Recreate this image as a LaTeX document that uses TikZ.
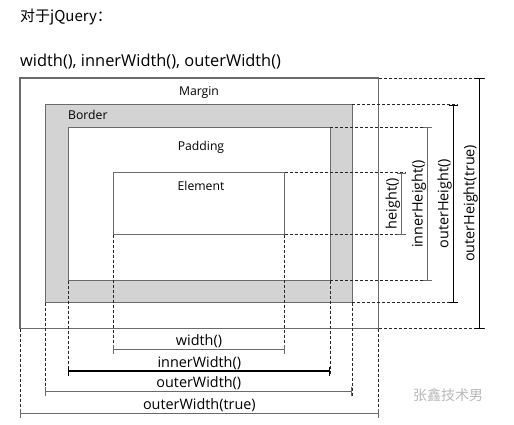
\documentclass[tikz,border=0pt]{standalone}
\usepackage{fontspec}
\setmainfont{Open Sans}
\newfontfamily\cjkfont{Noto Sans CJK SC}
\usetikzlibrary{arrows.meta}
\definecolor{boxGray}{HTML}{D3D3D3}
\definecolor{lineGray}{HTML}{6A6A6A}
\definecolor{markGray}{HTML}{B8B8B8}

\begin{document}
\begin{tikzpicture}[x=1pt, y=-1pt,
  layer/.style={draw=lineGray, line width=1.1pt, inner sep=0pt, outer sep=0pt, anchor=north west, fill=white},
  extline/.style={dash pattern=on 3pt off 2pt, line width=0.7pt, draw=black!85},
  dimline/.style={{Bar[width=9pt]}-{Bar[width=9pt]}, line width=1.1pt},
  boxlabel/.style={font=\fontsize{12.2}{14}\selectfont, inner sep=0pt},
  dimlabel/.style={font=\fontsize{14.4}{16}\selectfont, inner sep=1pt},
]
\useasboundingbox (0,0) rectangle (514,425);

% heading lines
\node[anchor=west, inner sep=0pt, font=\fontsize{15}{18}\selectfont] (title) at (20,17) {\cjkfont 对于jQuery：};
\node[anchor=west, inner sep=0pt, font=\fontsize{16.4}{19}\selectfont] (methods) at (20,62) {width(), innerWidth(), outerWidth()};

% box model layers
\node[layer, minimum width=358.7pt, minimum height=250.7pt] (margin) at (20,78) {};
\node[layer, fill=boxGray, minimum width=307pt, minimum height=198pt] (border) at (45.3,104.7) {};
\node[layer, minimum width=262pt, minimum height=153.4pt] (padding) at (68.3,127.3) {};
\node[layer, minimum width=171.4pt, minimum height=62pt] (element) at (113.3,172.7) {};

\node[boxlabel] (margin-label) at (199,92) {Margin};
\node[boxlabel, anchor=west] (border-label) at (68,115) {Border};
\node[boxlabel] (padding-label) at (201,147) {Padding};
\node[boxlabel] (element-label) at (201,186) {Element};

% dimension lines
\foreach \layer/\vx/\hy/\vcol/\hcol/\vlab/\hlab in {
  element/401.7/349.7/lineGray/lineGray/height()/width(),
  padding/427.7/371/lineGray/black/innerHeight()/innerWidth(),
  border/453.3/391.7/black/lineGray/outerHeight()/outerWidth(),
  margin/479.3/413.3/black/lineGray/outerHeight(true)/outerWidth(true)} {
  \coordinate (\layer-vx) at (\vx,0);
  \coordinate (\layer-hy) at (0,\hy);
  \draw[extline] (\layer.north east) -- ([xshift=4.5pt]\layer.north east -| \layer-vx);
  \draw[extline] (\layer.south east) -- ([xshift=4.5pt]\layer.south east -| \layer-vx);
  \draw[extline] (\layer.south west) -- ([yshift=-4.5pt]\layer.south west |- \layer-hy);
  \draw[extline] (\layer.south east) -- ([yshift=-4.5pt]\layer.south east |- \layer-hy);
  \draw[dimline, draw=\vcol] (\layer.north east -| \layer-vx) -- (\layer.south east -| \layer-vx)
    node[dimlabel, midway, rotate=90, above] {\vlab};
  \draw[dimline, draw=\hcol] (\layer.south west |- \layer-hy) -- (\layer.south east |- \layer-hy)
    node[dimlabel, midway, above] {\hlab};
}

% watermark
\node[anchor=west, inner sep=0pt, text=markGray, font=\fontsize{14}{16}\selectfont] (mark) at (413,395) {\cjkfont 张鑫技术男};
\end{tikzpicture}
\end{document}
